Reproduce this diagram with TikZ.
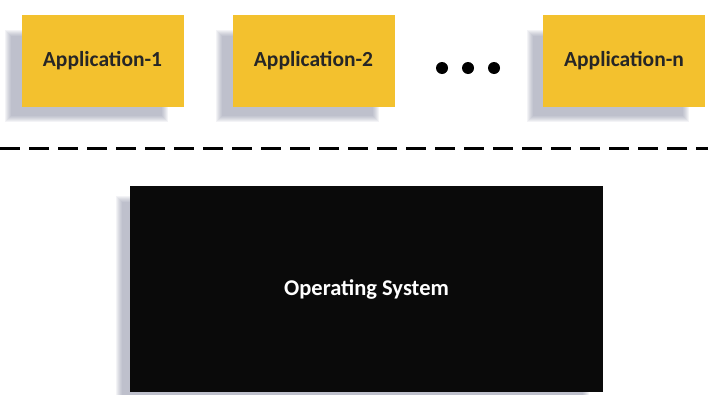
\documentclass[tikz,border=0pt]{standalone}
\usepackage{fontspec}
\setmainfont{Carlito}
\definecolor{appyellow}{RGB}{243,193,46}
\definecolor{shadowc}{RGB}{120,125,150}
\definecolor{osblack}{RGB}{10,10,10}
\tikzset{
  appbox/.style={fill=appyellow, draw=none, minimum width=162pt, minimum height=92pt, inner sep=0pt,
    font=\fontsize{21.5}{24}\selectfont\bfseries, text=black!85},
  osbox/.style={fill=osblack, draw=none, minimum width=473pt, minimum height=206pt, inner sep=0pt,
    font=\fontsize{22.5}{26}\selectfont\bfseries, text=white},
  dotstyle/.style={circle, fill=black, inner sep=0pt, minimum size=12pt},
  sep/.style={line width=3pt, dash pattern=on 20pt off 9pt}
}
\newcommand{\softshadow}[3]{% node, dx, dy
  \foreach \k in {0,...,6}{
    \fill[shadowc, opacity=0.09]
      ([xshift=#2+\k pt, yshift=#3+\k pt]#1.south west) rectangle
      ([xshift=#2-\k pt, yshift=#3-\k pt]#1.north east);
  }
}
\begin{document}
\begin{tikzpicture}[x=1pt,y=-1pt]
\useasboundingbox (0,0) rectangle (708,394);
\path (102.5,61) node[appbox, fill=none, text opacity=0] (a1p) {Application-1};
\path (313.5,61) node[appbox, fill=none, text opacity=0] (a2p) {Application-2};
\path (624,61) node[appbox, fill=none, text opacity=0] (anp) {Application-n};
\path (366.5,289) node[osbox, fill=none, text opacity=0] (osp) {Operating System};
\softshadow{a1p}{-16pt}{-15pt}
\softshadow{a2p}{-16pt}{-15pt}
\softshadow{anp}{-16pt}{-15pt}
\softshadow{osp}{-14pt}{-10pt}
\node[appbox] (a1) at (102.5,61) {Application-1};
\node[appbox] (a2) at (313.5,61) {Application-2};
\node[appbox] (an) at (624,61) {Application-n};
\node[dotstyle] (d1) at (442,68) {};
\node[dotstyle] (d2) at (468,68) {};
\node[dotstyle] (d3) at (494,68) {};
\coordinate (sl) at (0,148);
\coordinate (sr) at (708,148);
\draw[sep] (sl) -- (sr);
\node[osbox] (os) at (366.5,289) {Operating System};
\end{tikzpicture}
\end{document}
